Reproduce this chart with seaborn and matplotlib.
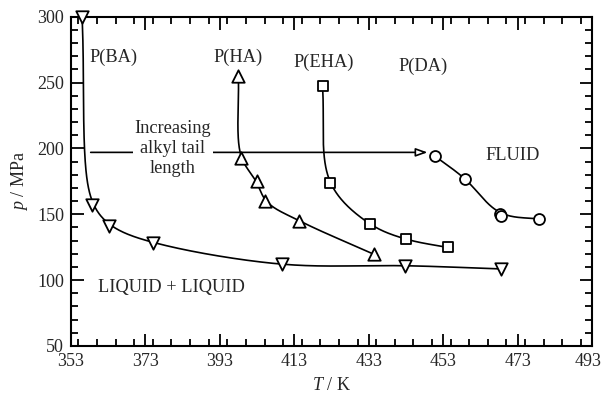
import numpy as np
import pandas as pd
import matplotlib
matplotlib.use("Agg")
import matplotlib.pyplot as plt
import matplotlib.transforms as mtransforms
import seaborn as sns
from matplotlib.ticker import MultipleLocator

# ---- data ----
ba_T = [356.0, 358.6, 363.3, 375.1, 409.6, 442.8, 468.6]
ba_p = [300.0, 157.0, 141.0, 128.5, 112.0, 111.0, 108.5]
ha_T = [398.0, 398.7, 402.9, 405.2, 414.4, 434.5]
ha_p = [255.0, 193.0, 175.0, 160.0, 145.0, 119.5]
eha_T = [420.6, 422.6, 433.4, 443.1, 454.3]
eha_p = [247.6, 174.0, 142.4, 131.0, 124.8]
da_T = [450.8, 458.9, 468.3, 468.6, 478.8]
da_p = [194.1, 177.0, 150.5, 149.0, 146.5]

x_ticks = [353, 373, 393, 413, 433, 453, 473, 493]
y_ticks = [50, 100, 150, 200, 250, 300]

sns.set_style("ticks")
plt.rcParams["font.family"] = ["Liberation Serif", "DejaVu Serif"]
plt.rcParams["mathtext.fontset"] = "custom"
plt.rcParams["mathtext.rm"] = "Liberation Serif"
plt.rcParams["mathtext.it"] = "Liberation Serif:italic"

XMIN, XMAX, YMIN, YMAX = 353, 493, 50, 300
SX, SY = 521.0 / (XMAX - XMIN), 330.0 / (YMAX - YMIN)


def smooth(xs, ys, n=40, sigma=7.0):
    P = np.column_stack([(np.asarray(xs) - XMIN) * SX, (np.asarray(ys) - YMIN) * SY])
    keep = [0]
    for i in range(1, len(P)):
        if np.linalg.norm(P[i] - P[keep[-1]]) > 4:
            keep.append(i)
    P = P[keep]
    P = np.vstack([2 * P[0] - P[1], P, 2 * P[-1] - P[-2]])
    out = []
    for i in range(1, len(P) - 2):
        p0, p1, p2, p3 = P[i - 1], P[i], P[i + 1], P[i + 2]
        t0 = 0.0
        t1 = t0 + np.linalg.norm(p1 - p0) ** 0.5
        t2 = t1 + np.linalg.norm(p2 - p1) ** 0.5
        t3 = t2 + np.linalg.norm(p3 - p2) ** 0.5
        t = np.linspace(t1, t2, n)[:, None]
        A1 = (t1 - t) / (t1 - t0) * p0 + (t - t0) / (t1 - t0) * p1
        A2 = (t2 - t) / (t2 - t1) * p1 + (t - t1) / (t2 - t1) * p2
        A3 = (t3 - t) / (t3 - t2) * p2 + (t - t2) / (t3 - t2) * p3
        B1 = (t2 - t) / (t2 - t0) * A1 + (t - t0) / (t2 - t0) * A2
        B2 = (t3 - t) / (t3 - t1) * A2 + (t - t1) / (t3 - t1) * A3
        C = (t2 - t) / (t2 - t1) * B1 + (t - t1) / (t2 - t1) * B2
        out.append(C)
    C = np.vstack(out)
    # resample by arc length (1 px) and round the corners a little
    seg = np.r_[0, np.cumsum(np.linalg.norm(np.diff(C, axis=0), axis=1))]
    s = np.arange(0, seg[-1], 1.0)
    s = np.r_[s, seg[-1]]
    R = np.column_stack([np.interp(s, seg, C[:, 0]), np.interp(s, seg, C[:, 1])])
    k = int(3 * sigma)
    pad_l = 2 * R[0] - R[1:k + 1][::-1]
    pad_r = 2 * R[-1] - R[-k - 1:-1][::-1]
    Q = np.vstack([pad_l, R, pad_r])
    w = np.exp(-0.5 * (np.arange(-k, k + 1) / sigma) ** 2)
    w /= w.sum()
    Sx = np.convolve(Q[:, 0], w, mode="valid")
    Sy = np.convolve(Q[:, 1], w, mode="valid")
    return Sx / SX + XMIN, Sy / SY + YMIN


fig = plt.figure(figsize=(6.03, 3.96), dpi=100)
ax = fig.add_axes([0.1177, 0.1263, 0.8641, 0.8315])

series = [
    (ba_T, ba_p, "v", 80, 15.0),
    (ha_T, ha_p, "^", 80, 7.0),
    (eha_T, eha_p, "s", 62, 8.0),
    (da_T, da_p, "o", 62, 9.0),
]
for T, p, m, s, sg in series:
    cx, cy = smooth(T, p, sigma=sg)
    sns.lineplot(x=cx, y=cy, sort=False, estimator=None, color="black",
                 linewidth=1.2, ax=ax, zorder=2)
    sns.scatterplot(x=T, y=p, marker=m, s=s, color="white", edgecolor="black",
                    linewidth=1.3, ax=ax, zorder=3, clip_on=False)

ax.set_xlim(XMIN, XMAX)
ax.set_ylim(YMIN, YMAX)
ax.set_xticks(x_ticks)
ax.set_yticks(y_ticks)
ax.xaxis.set_minor_locator(MultipleLocator(5))
ax.yaxis.set_minor_locator(MultipleLocator(10))
ax.tick_params(which="both", direction="in", top=True, right=True,
               color="black", width=1.3, labelsize=13)
ax.tick_params(which="major", length=9, pad=5)
ax.tick_params(which="minor", length=5)
for sp in ax.spines.values():
    sp.set_linewidth(1.5)
    sp.set_color("black")
    sp.set_visible(True)

fig.canvas.draw()
last = ax.get_xticklabels()[-1]
last.set_transform(last.get_transform() +
                   mtransforms.ScaledTranslation(-4 / 100, 0, fig.dpi_scale_trans))

ax.set_xlabel(r"$T$ / K", fontsize=13, labelpad=5)
ax.set_ylabel(r"$p$ / MPa", fontsize=13, labelpad=5)

fs = 13.2
ax.text(358.0, 269, "P(BA)", fontsize=fs, ha="left", va="center")
ax.text(397.9, 269, "P(HA)", fontsize=fs, ha="center", va="center")
ax.text(420.8, 265, "P(EHA)", fontsize=fs, ha="center", va="center")
ax.text(447.6, 262, "P(DA)", fontsize=fs, ha="center", va="center")
ax.text(471.7, 195, "FLUID", fontsize=fs, ha="center", va="center")
ax.text(380.4, 200, "Increasing\nalkyl tail\nlength", fontsize=fs,
        ha="center", va="center", linespacing=1.2,
        bbox=dict(facecolor="white", edgecolor="none", pad=1))
ax.text(380.1, 94.5, "LIQUID + LIQUID", fontsize=fs, ha="center", va="center")

ax.annotate("", xy=(448.8, 197), xytext=(358.3, 197),
            arrowprops=dict(arrowstyle="-|>,head_length=0.7,head_width=0.25",
                            facecolor="white", edgecolor="black", lw=1.2,
                            shrinkA=0, shrinkB=0), zorder=1)

fig.savefig("out.png", dpi=100)
